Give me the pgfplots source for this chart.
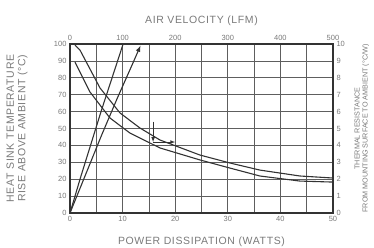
\documentclass[border=0pt]{standalone}
\usepackage{fontspec}
\setmainfont{Liberation Sans}
\usepackage{pgfplots}
\pgfplotsset{compat=1.18}
\definecolor{txt}{HTML}{7A7A7A}
\definecolor{ln}{HTML}{333333}
\definecolor{gr}{HTML}{5E5E5E}
\begin{document}
\begin{tikzpicture}
\useasboundingbox (-70pt,-34pt) rectangle (304pt,213pt);
\pgfplotsset{
  every axis/.append style={
    scale only axis, width=263pt, height=169pt,
    at={(0pt,0pt)}, anchor=south west,
    font=\fontsize{7.5}{8}\selectfont\color{txt},
    /pgf/number format/assume math mode=true,
    tick style={draw=none},
    label style={font=\fontsize{10.5}{11.5}\selectfont\addfontfeature{LetterSpace=6}\color{txt}},
  }
}
\begin{axis}[
  xmin=0, xmax=50, ymin=0, ymax=100,
  xtick={0,10,...,50}, minor xtick={5,15,...,45},
  ytick={0,10,...,100},
  grid=both,
  major grid style={draw=gr, line width=0.7pt},
  minor grid style={draw=gr, line width=0.7pt},
  axis line style={draw=ln, line width=1.1pt},
  xlabel={POWER DISSIPATION (WATTS)},
  ylabel={HEAT SINK TEMPERATURE\\RISE ABOVE AMBIENT (°C)},
  ylabel style={align=center, at={(axis description cs:-0.2015,0.5)}, anchor=center},
  xlabel style={at={(axis description cs:0.5,-0.172)}, anchor=center},
]
\addplot[ln, line width=1.1pt] coordinates {(0,0) (2,21) (4,41) (6,61) (8,80) (10.1,100)};
\addplot[ln, line width=1.1pt, -latex] coordinates {(0,0) (3,23) (6,46) (9,68) (12,89) (13.4,99)};
\end{axis}
\begin{axis}[
  xmin=0, xmax=500, ymin=0, ymax=10,
  axis x line*=top, axis y line*=right,
  xtick={0,100,...,500}, ytick={0,1,...,10},
  axis line style={draw=ln, line width=1.1pt},
  xlabel={AIR VELOCITY (LFM)},
  ylabel={THERMAL RESISTANCE\\FROM MOUNTING SURFACE TO AMBIENT (°C/W)},
  ylabel style={align=center, font=\fontsize{7.2}{8}\selectfont\color{txt}, at={(axis description cs:1.11,0.5)}, anchor=center},
  xlabel style={at={(axis description cs:0.5,1.136)}, anchor=center},
]
\addplot[ln, line width=1.1pt] coordinates {(9.5,9.94) (19,9.64) (57,7.40) (95,5.92) (133,5.03) (171,4.32) (247,3.43) (304,2.96) (361,2.54) (437,2.19) (500,2.07)};
\addplot[ln, line width=1.1pt] coordinates {(9.5,8.93) (38,7.16) (76,5.62) (114,4.73) (171,3.85) (247,3.14) (304,2.66) (361,2.19) (437,1.89) (500,1.83)};
\draw[ln, line width=0.7pt, -latex] (axis cs:158,5.4) -- (axis cs:158,4.2);
\draw[ln, line width=0.7pt, -latex] (axis cs:158,4.2) -- (axis cs:200,4.2);
\end{axis}
\end{tikzpicture}
\end{document}
